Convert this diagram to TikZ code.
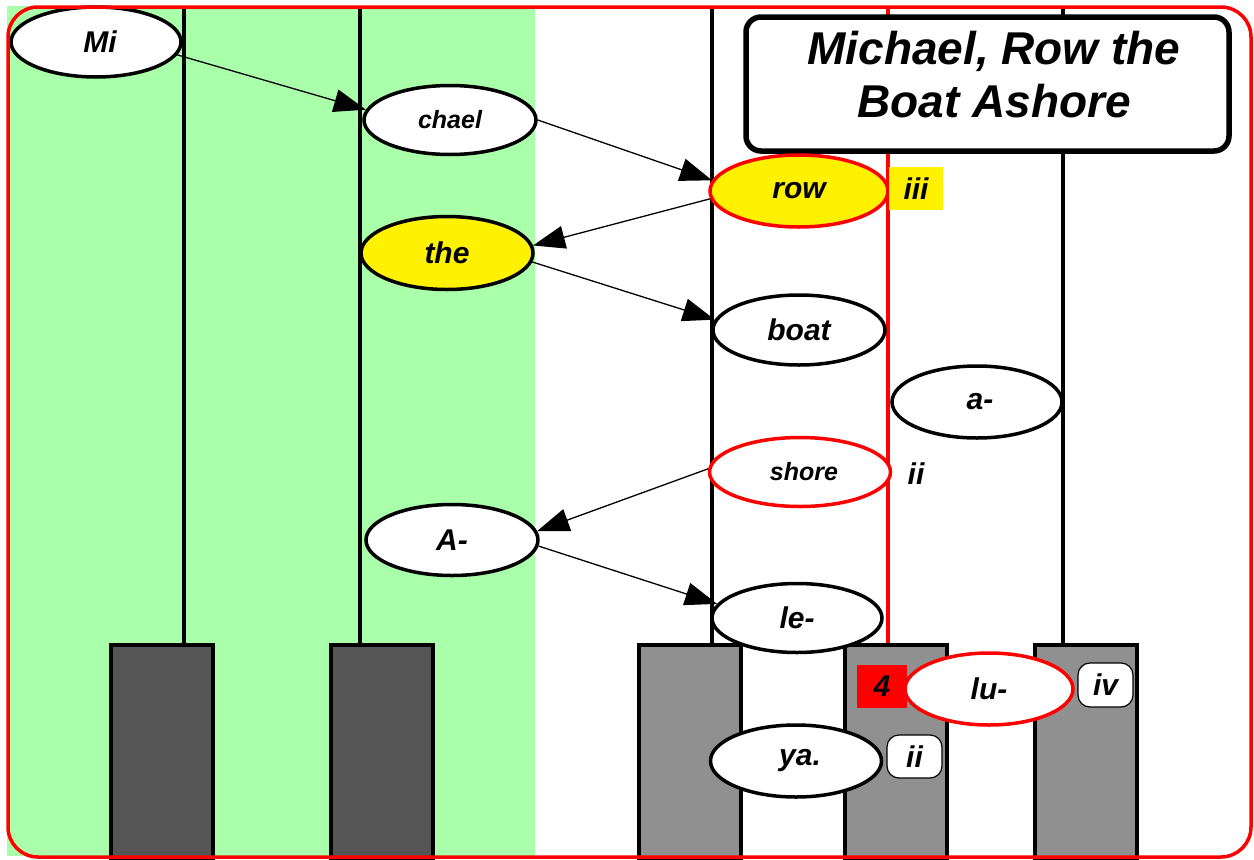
\documentclass[tikz,border=0pt]{standalone}
\usepackage{fontspec}
\setmainfont{Liberation Sans}
\usetikzlibrary{shapes.geometric,arrows.meta}
\definecolor{bggreen}{RGB}{170,255,170}
\definecolor{darkkey}{RGB}{85,85,85}
\definecolor{lightkey}{RGB}{144,144,144}
\tikzset{
  syl/.style={ellipse, draw, line width=3.5pt, fill=white, minimum width=170pt, minimum height=70pt, inner sep=0pt, font=\fontsize{30}{30}\selectfont\bfseries\itshape},
  sylsmall/.style={syl, font=\fontsize{25}{25}\selectfont\bfseries\itshape},
  hl/.style={fill=yellow},
  redb/.style={draw=red},
  conn/.style={line width=1.3pt, -{Triangle[length=32pt,width=23pt]}},
  lbl/.style={minimum width=54pt, minimum height=43pt, inner sep=0pt, font=\fontsize{30}{30}\selectfont\bfseries\itshape},
  rlbl/.style={lbl, draw, line width=1.2pt, fill=white, rounded corners=12pt},
  keyline/.style={line width=3.5pt},
  darkkeybox/.style={draw, line width=4pt, fill=darkkey},
  lightkeybox/.style={draw, line width=4pt, fill=lightkey}
}
\begin{document}
\begin{tikzpicture}[x=1pt, y=-1pt]
\useasboundingbox (0,0) rectangle (1254,860);
\fill[bggreen] (7,6) rectangle (535,856);
% vertical lines
\foreach \x in {184,360,712,1063} \draw[keyline] (\x,7) -- (\x,645);
\draw[keyline, red] (888,7) -- (888,645);
% keys
\draw[darkkeybox] (111,645) rectangle (213,858);
\draw[darkkeybox] (331,645) rectangle (433,858);
\draw[lightkeybox] (639,645) rectangle (741,858);
\draw[lightkeybox] (845,645) rectangle (947,858);
\draw[lightkeybox] (1035,645) rectangle (1137,858);
% title
\node[draw, line width=5.5pt, rounded corners=15pt, fill=white, minimum width=483pt, minimum height=134pt, inner sep=0pt] (title) at (987.5,84) {};
\node[align=center, inner sep=0pt, font=\fontsize{46}{53}\selectfont\bfseries\itshape] (titletext) at (994,75) {Michael, Row the\\Boat Ashore};
% syllables
\node[syl] (Mi) at (96,42) {\hspace*{8pt}Mi};
\node[sylsmall, minimum width=172pt, minimum height=69pt] (chael) at (450,120) {chael};
\node[syl, hl, redb, minimum width=178pt, minimum height=72pt] (row) at (799,191) {row};
\node[syl, hl, minimum width=172pt, minimum height=73pt] (the) at (447,253) {the};
\node[syl, minimum width=172pt] (boat) at (799,330) {boat};
\node[syl, minimum height=72pt] (a) at (977,402) {\hspace*{6pt}a-};
\node[sylsmall, redb, minimum width=181pt, minimum height=69pt] (shore) at (800,472) {\hspace*{8pt}shore};
\node[syl, minimum width=172pt, minimum height=71pt] (A) at (452,540) {A-};
\node[syl, minimum height=69pt] (le) at (797,618) {le-};
\node[syl, redb, minimum width=168pt, minimum height=72pt] (lu) at (989,689) {lu-};
\node[syl, minimum width=171pt, minimum height=72pt] (ya) at (796,761) {\hspace*{8pt}ya.};
% labels
\node[lbl, fill=yellow] (iii) at (916,188.5) {iii};
\node[lbl] (iiA) at (916,474) {ii};
\node[lbl, fill=red, minimum width=50pt] (four) at (882,686.5) {4};
\node[rlbl, minimum width=55pt, minimum height=44pt] (iv) at (1105.5,685) {iv};
\node[rlbl, minimum width=55pt] (iiB) at (914.5,756.5) {ii};
% connectors
\draw[conn] (Mi.-9) -- (chael.173);
\draw[conn] (chael.0) -- (row.173);
\draw[conn] (row.185) -- (the.5);
\draw[conn] (the.-6) -- (boat.173);
\draw[conn] (shore.178) -- (A.6);
\draw[conn] (A.-4) -- (le.170);
% outer border
\draw[red, line width=3.5pt, rounded corners=30pt] (8,7) rectangle (1251,857);
\end{tikzpicture}
\end{document}
